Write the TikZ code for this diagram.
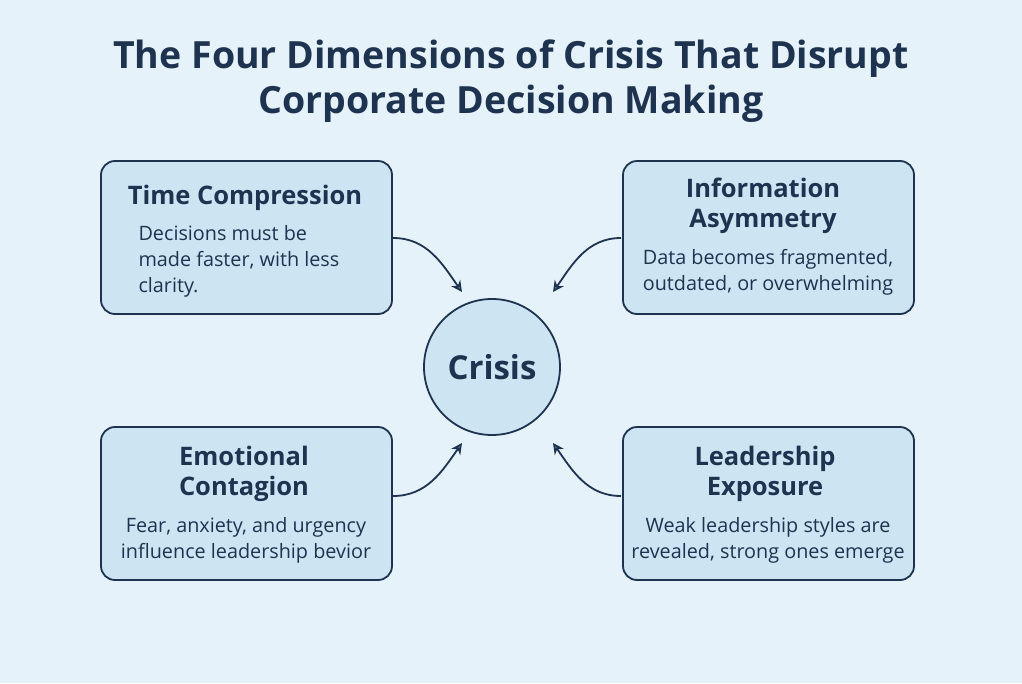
\documentclass[tikz,border=0pt]{standalone}
\usepackage{fontspec}
\setmainfont{Open Sans}
\usetikzlibrary{arrows.meta}
\definecolor{navy}{HTML}{1E3350}
\definecolor{bg}{HTML}{E6F2F9}
\definecolor{boxf}{HTML}{CDE5F2}
\begin{document}
\begin{tikzpicture}[x=1pt,y=-1pt,
  card/.style={draw=navy,line width=1.8pt,fill=boxf,rounded corners=14pt,minimum width=291pt,minimum height=153pt},
  ttl/.style={text=navy,font=\fontsize{25.5}{30}\selectfont\bfseries,align=center},
  body/.style={text=navy,font=\fontsize{19.8}{26}\selectfont,align=left},
  conn/.style={draw=navy,line width=1.8pt,-{Stealth[length=11pt,width=11pt,open,fill=none]}}]
\useasboundingbox[fill=bg] (0,0) rectangle (1022,683);
\node[text=navy,font=\fontsize{37.5}{45}\selectfont\bfseries,align=center] (title) at (511,81) {The Four Dimensions of Crisis That Disrupt\\Corporate Decision Making};
\node[card] (tl) at (246.5,237.5) {};
\node[card] (tr) at (768.5,237.5) {};
\node[card] (bl) at (246.5,503.5) {};
\node[card] (br) at (768.5,503.5) {};
\node[circle,draw=navy,line width=1.8pt,fill=boxf,minimum size=136pt,text=navy,font=\fontsize{33}{35}\selectfont\bfseries] (c) at (492,367) {Crisis};
\node[ttl] (tlt) at (245,198) {Time Compression};
\node[body,anchor=north west] (tlb) at (135,222) {Decisions must be\\made faster, with less\\clarity.};
\node[ttl] (trt) at (763,206) {Information\\Asymmetry};
\node[body,align=center] (trb) at (768,272) {Data becomes fragmented,\\outdated, or overwhelming};
\node[ttl] (blt) at (244,474) {Emotional\\Contagion};
\node[body,align=center] (blb) at (246,540) {Fear, anxiety, and urgency\\influence leadership bevior};
\node[ttl] (brt) at (765,474) {Leadership\\Exposure};
\node[body,align=center] (brb) at (768,540) {Weak leadership styles are\\revealed, strong ones emerge};
\coordinate (a1) at (393,238); \coordinate (a2) at (621,238);
\coordinate (a3) at (393,496); \coordinate (a4) at (621,496);
\draw[conn] (a1) to[out=0,in=125] (462,292);
\draw[conn] (a2) to[out=180,in=55] (553,292);
\draw[conn] (a3) to[out=0,in=-125] (462,443);
\draw[conn] (a4) to[out=180,in=-55] (553,443);
\end{tikzpicture}
\end{document}
